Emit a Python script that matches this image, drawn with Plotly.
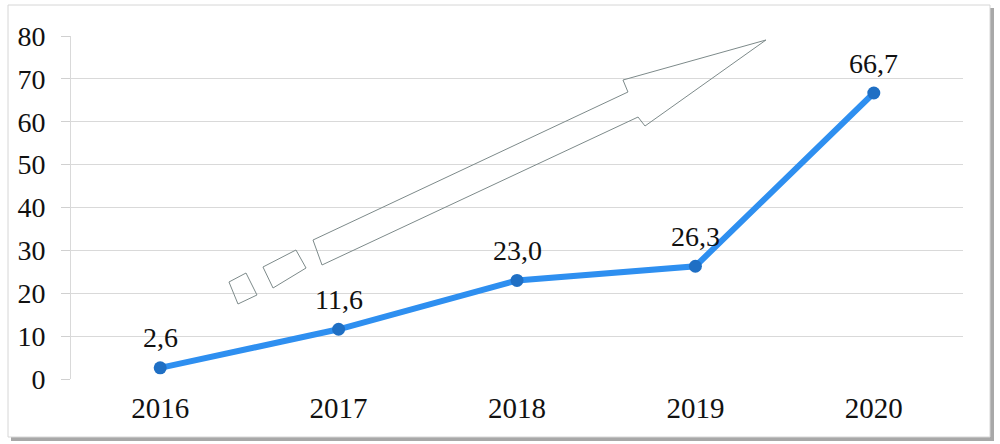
import plotly.graph_objects as go

# =========================================================
# DATA
# =========================================================

years = ["2016", "2017", "2018", "2019", "2020"]
values = [2.6, 11.6, 23.0, 26.3, 66.7]
labels = ["2,6", "11,6", "23,0", "26,3", "66,7"]
y_ticks = [0, 10, 20, 30, 40, 50, 60, 70, 80]

# =========================================================
# LAYOUT GEOMETRY (pixels)
# =========================================================

W, H = 1000, 444
PL, PR, PT, PB = 71, 963, 36, 379   # plot area edges
FONT = "Liberation Serif, Times New Roman, serif"


def to_paper(px, py):
    return (px - PL) / (PR - PL), (PB - py) / (PB - PT)


def path_from_px(points):
    pts = [to_paper(x, y) for x, y in points]
    return "M " + " L ".join(f"{x:.4f},{y:.4f}" for x, y in pts) + " Z"


def rect_px(x0, y0, x1, y1, **kw):
    a, b = to_paper(x0, y1)
    c, d = to_paper(x1, y0)
    return dict(type="rect", xref="paper", yref="paper",
                x0=a, y0=b, x1=c, y1=d, **kw)


# decorative striped arrow (outline only)
arrow_px = [(313, 240), (628, 92), (623, 80), (766, 40),
            (645, 126), (638, 117), (322, 265)]
stripe_big_px = [(263, 267), (296, 250), (306, 268), (273, 288)]
stripe_small_px = [(229, 282), (246, 273), (257, 295), (238, 304)]

fig = go.Figure()

fig.add_trace(go.Scatter(
    x=years,
    y=values,
    mode="lines+markers",
    line=dict(color="#2e8ff0", width=6),
    marker=dict(color="#1f6fc4", size=13),
    cliponaxis=False,
    hoverinfo="skip",
))

# data labels above points (category index, numeric-looking names confuse annotations)
for i, (v, lab) in enumerate(zip(values, labels)):
    fig.add_annotation(x=i, y=v, xref="x", yref="y", text=lab, showarrow=False,
                       yshift=30, font=dict(family=FONT, size=28, color="#111111"))

shapes = [
    # card shadow + frame
    rect_px(11, 8, 994, 441, line=dict(width=0),
            fillcolor="rgba(110,110,110,0.6)", layer="below"),
    rect_px(8, 5, 990, 437, line=dict(width=1, color="#d6d6d6"),
            fillcolor="white", layer="below"),
]

for pts in (arrow_px, stripe_big_px, stripe_small_px):
    shapes.append(dict(type="path", xref="paper", yref="paper",
                       path=path_from_px(pts),
                       line=dict(color="#7d8a8a", width=1),
                       fillcolor="rgba(0,0,0,0)", layer="above"))

fig.update_layout(
    width=W, height=H,
    margin=dict(l=PL, r=W - PR, t=PT, b=H - PB),
    paper_bgcolor="white",
    plot_bgcolor="rgba(0,0,0,0)",
    showlegend=False,
    shapes=shapes,
    font=dict(family=FONT, size=29, color="#111111"),
)

fig.update_xaxes(
    type="category",
    range=[-0.5, 4.5],
    showgrid=False,
    showline=False,
    ticks="",
    tickfont=dict(family=FONT, size=29, color="#111111"),
    ticklabelstandoff=9,
    fixedrange=True,
)

fig.update_yaxes(
    range=[0, 80],
    tickvals=y_ticks,
    showgrid=True,
    gridcolor="#d9d9d9",
    gridwidth=1,
    showline=True,
    linecolor="#d9d9d9",
    linewidth=1,
    ticks="outside",
    ticklen=9,
    tickwidth=1,
    tickcolor="#d0d0d0",
    tickfont=dict(family=FONT, size=28, color="#111111"),
    ticklabelstandoff=10,
    zeroline=False,
    fixedrange=True,
)

fig.write_html("out.html", config={"displayModeBar": False},
               post_script="document.body.style.margin='0';")
